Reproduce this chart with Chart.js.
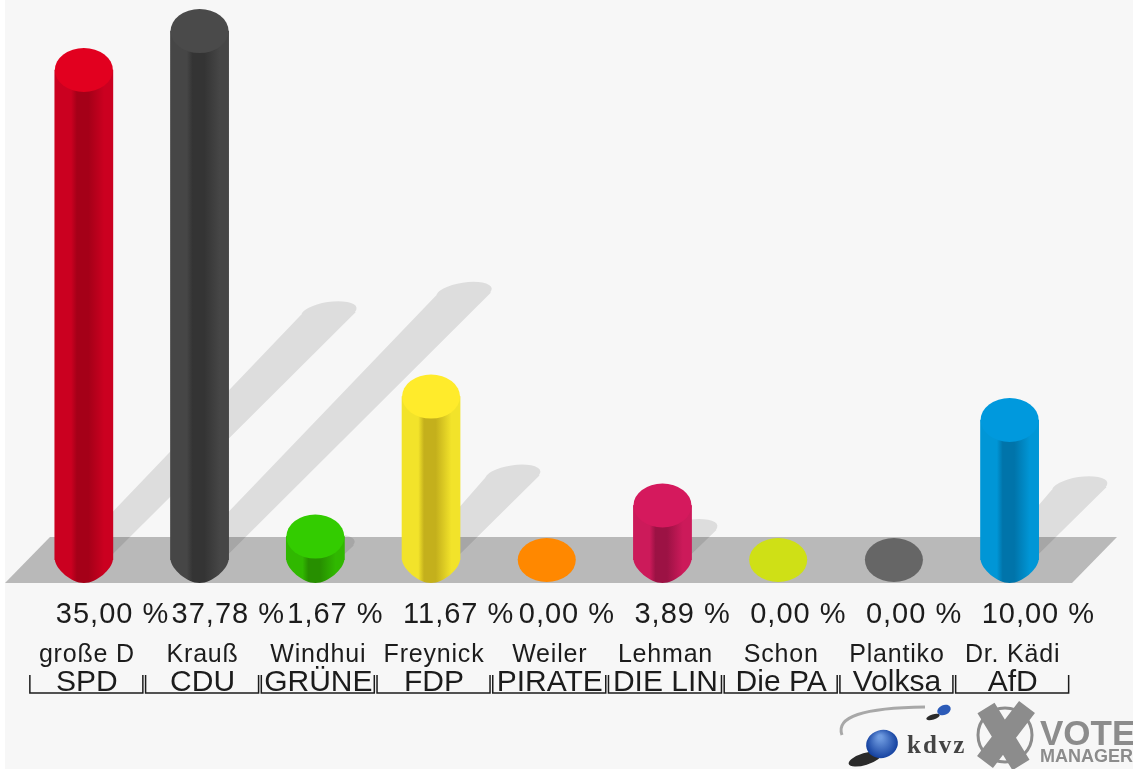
<!DOCTYPE html>
<html>
<head>
<meta charset="utf-8">
<title>Wahlergebnis</title>
<script src="https://cdn.jsdelivr.net/npm/chart.js@4"></script>
<style>
  html, body { margin: 0; padding: 0; background: #fff; overflow: hidden; }
  canvas { display: block; filter: blur(0.6px); }
</style>
</head>
<body>
<canvas id="votes" width="1133" height="769"></canvas>
<script>
// chart data
const parties = ['SPD', 'CDU', 'GRÜNE', 'FDP', 'PIRATE', 'DIE LIN', 'Die PA', 'Volksa', 'AfD'];
const candidates = ['große D', 'Krauß', 'Windhui', 'Freynick', 'Weiler', 'Lehman', 'Schon', 'Plantiko', 'Dr. Kädi'];
const shares = [35.00, 37.78, 1.67, 11.67, 0.00, 3.89, 0.00, 0.00, 10.00];

// cylinder colours
const capColors = ['#e2001f', '#4a4a4a', '#33cc00', '#ffeb2b', '#ff8800', '#d5195d', '#cfe016', '#666666', '#0099dd'];
const sideColors = ['#cb0020', '#464646', '#30b800', '#f2e32a', '#f08000', '#cc1a5a', '#c4d414', '#606060', '#0096d6'];
const darkColors = ['#a50018', '#343434', '#278f00', '#c4b01c', '#c06000', '#9c1244', '#9aa810', '#444444', '#0074aa'];

const RX = 29, RY = 23;
const FONT = '"Liberation Sans", Arial, sans-serif';

const cylinders = {
  id: 'cylinders',
  beforeDraw(chart) {
    const ctx = chart.ctx;
    ctx.save();
    ctx.fillStyle = '#f7f7f7';
    ctx.fillRect(5, 0, 1128, 769);
    ctx.restore();
  },
  beforeDatasetsDraw(chart) {
    const ctx = chart.ctx;
    ctx.save();
    // ground strip
    ctx.fillStyle = '#b9b9b9';
    ctx.beginPath();
    ctx.moveTo(50, 537);
    ctx.lineTo(1117, 537);
    ctx.lineTo(1072, 583);
    ctx.lineTo(5, 583);
    ctx.closePath();
    ctx.fill();
    // shadows falling back to the right
    ctx.fillStyle = 'rgba(0,0,0,0.1)';
    chart.getDatasetMeta(0).data.forEach(bar => {
      const h = bar.base - bar.y;
      if (h <= 0) return;
      const cx = bar.x + h / 2, cy = bar.base - h / 2;
      ctx.beginPath();
      ctx.moveTo(bar.x - 23, bar.base + 6);
      ctx.lineTo(cx - 28, cy);
      ctx.lineTo(cx + 27, cy - 3);
      ctx.lineTo(bar.x + 25, bar.base - 2);
      ctx.closePath();
      ctx.ellipse(cx, cy - 3, 28, 10, -0.15, 0, Math.PI * 2);
      ctx.fill();
    });
    ctx.restore();
  },
  afterDatasetsDraw(chart) {
    const ctx = chart.ctx;
    ctx.save();
    chart.getDatasetMeta(0).data.forEach((bar, i) => {
      // zero shares are only a flat disc on the ground
      if (bar.base - bar.y > 0) {
        const g = ctx.createLinearGradient(bar.x - RX, 0, bar.x + RX, 0);
        g.addColorStop(0, sideColors[i]);
        g.addColorStop(0.28, sideColors[i]);
        g.addColorStop(0.38, darkColors[i]);
        g.addColorStop(0.58, darkColors[i]);
        g.addColorStop(0.85, sideColors[i]);
        g.addColorStop(1, sideColors[i]);
        ctx.fillStyle = g;
        ctx.beginPath();
        ctx.moveTo(bar.x - RX, bar.y);
        ctx.lineTo(bar.x + RX, bar.y);
        ctx.lineTo(bar.x + RX, bar.base);
        ctx.bezierCurveTo(bar.x + 28, bar.base + 9, bar.x + 13, bar.base + RY, bar.x, bar.base + RY);
        ctx.bezierCurveTo(bar.x - 13, bar.base + RY, bar.x - 28, bar.base + 9, bar.x - RX, bar.base);
        ctx.closePath();
        ctx.fill();
      }
      ctx.fillStyle = capColors[i];
      ctx.beginPath();
      ctx.ellipse(bar.x, bar.y, RX, RY - 1, 0, 0, Math.PI * 2);
      ctx.fill();
    });
    ctx.restore();
  },
  afterDraw(chart) {
    const ctx = chart.ctx;
    const x = chart.scales.x;
    ctx.save();
    ctx.fillStyle = '#1c1c1c';
    ctx.textBaseline = 'alphabetic';
    shares.forEach((v, i) => {
      const px = x.getPixelForValue(i);
      ctx.font = '29px ' + FONT;
      ctx.letterSpacing = '1px';
      ctx.textAlign = 'left';
      ctx.fillText(v.toFixed(2).replace('.', ',') + ' %', px - 28, 623);
      ctx.font = '25px ' + FONT;
      ctx.letterSpacing = '0.8px';
      ctx.textAlign = 'center';
      ctx.fillText(candidates[i], px + 3, 662);
      ctx.letterSpacing = '0px';
      // party bracket
      ctx.strokeStyle = '#1c1c1c';
      ctx.lineWidth = 1.5;
      ctx.beginPath();
      ctx.moveTo(px - 54, 675);
      ctx.lineTo(px - 54, 693);
      ctx.lineTo(px + 59, 693);
      ctx.lineTo(px + 59, 675);
      ctx.stroke();
    });
    drawLogos(ctx);
    ctx.restore();
  }
};

function drawLogos(ctx) {
  // kdvz swoosh
  ctx.strokeStyle = '#a8a8a8';
  ctx.lineWidth = 3;
  ctx.beginPath();
  ctx.moveTo(842, 735);
  ctx.quadraticCurveTo(832, 708, 925, 707);
  ctx.stroke();
  // spheres and their shadows
  ctx.fillStyle = '#2a2a2a';
  ctx.beginPath();
  ctx.ellipse(865, 759, 17, 6, -0.3, 0, Math.PI * 2);
  ctx.fill();
  ctx.beginPath();
  ctx.ellipse(933, 717, 7, 2.5, -0.3, 0, Math.PI * 2);
  ctx.fill();
  let g = ctx.createRadialGradient(880, 737, 2, 882, 743, 16);
  g.addColorStop(0, '#6f9be0');
  g.addColorStop(1, '#123f9e');
  ctx.fillStyle = g;
  ctx.beginPath();
  ctx.ellipse(882, 744, 16, 14, -0.3, 0, Math.PI * 2);
  ctx.fill();
  ctx.fillStyle = '#2c5bb8';
  ctx.beginPath();
  ctx.ellipse(944, 710, 7, 5, -0.4, 0, Math.PI * 2);
  ctx.fill();
  ctx.fillStyle = '#444';
  ctx.font = 'bold 25px "Liberation Serif", serif';
  ctx.letterSpacing = '2px';
  ctx.textAlign = 'left';
  ctx.fillText('kdvz', 907, 753);
  ctx.letterSpacing = '0px';
  // vote manager cross
  ctx.strokeStyle = '#8c8c8c';
  ctx.lineWidth = 3;
  ctx.beginPath();
  ctx.arc(1005, 735, 27, 0, Math.PI * 2);
  ctx.stroke();
  ctx.lineWidth = 20;
  ctx.beginPath();
  ctx.moveTo(986, 708);
  ctx.lineTo(1021, 765);
  ctx.moveTo(1027, 707);
  ctx.lineTo(985, 762);
  ctx.stroke();
  ctx.fillStyle = '#8c8c8c';
  ctx.font = 'bold 35px ' + FONT;
  ctx.fillText('VOTE', 1040, 745);
  ctx.font = 'bold 18px ' + FONT;
  ctx.fillText('MANAGER', 1040, 762);
}

new Chart(document.getElementById('votes'), {
  type: 'bar',
  data: {
    labels: parties,
    datasets: [{
      data: shares,
      backgroundColor: sideColors,
      borderWidth: 0,
      barThickness: 58
    }]
  },
  options: {
    responsive: false,
    animation: false,
    layout: { padding: { top: 0, left: 26, right: 65.5, bottom: 0 } },
    plugins: { legend: { display: false }, tooltip: { enabled: false } },
    scales: {
      x: {
        grid: { display: false, drawTicks: false },
        border: { display: false },
        // the big tick padding would otherwise eat into the sides too
        afterFit(scale) {
          scale.height = 209;
          scale.paddingLeft = 0;
          scale.paddingRight = 0;
        },
        ticks: {
          autoSkip: false,
          maxRotation: 0,
          minRotation: 0,
          padding: 105,
          labelOffset: 3,
          color: '#1c1c1c',
          font: { family: FONT, size: 30 }
        }
      },
      y: { display: false, min: 0, max: 40 }
    }
  },
  plugins: [cylinders]
});
</script>
</body>
</html>
